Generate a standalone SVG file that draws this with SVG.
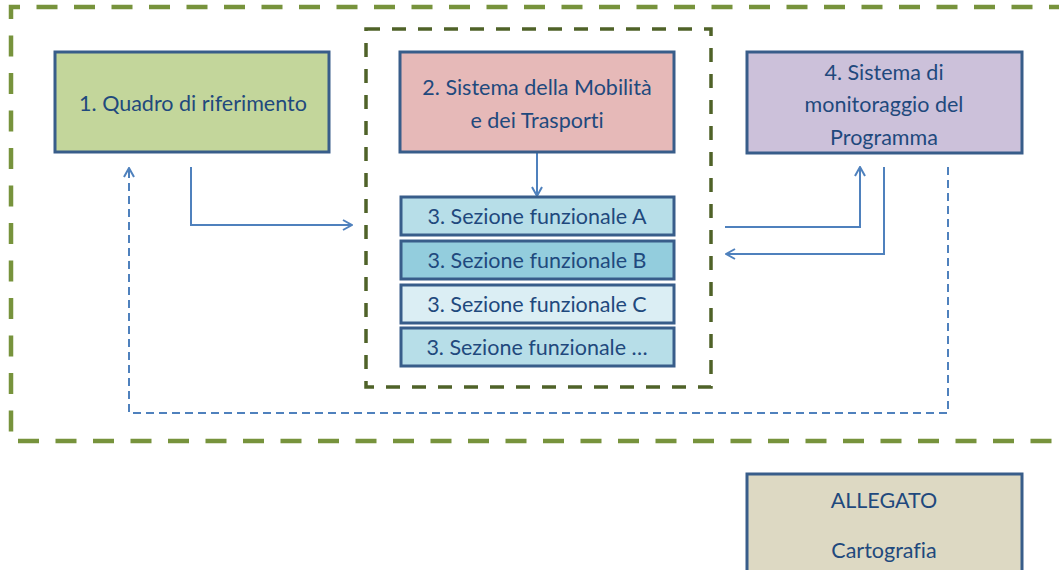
<svg xmlns="http://www.w3.org/2000/svg" width="1059" height="570" viewBox="0 0 1059 570">
<style>
.box{stroke:#385D8A;stroke-width:3}
.t{font-family:Lato,"Open Sans",sans-serif;font-size:21.5px;fill:#1F497D;text-anchor:middle;dominant-baseline:central;font-variant-ligatures:none;font-feature-settings:"liga" 0}
.c{fill:none;stroke:#4F81BD;stroke-width:2}
</style>
<defs>
<marker id="ah" viewBox="0 0 12 12" refX="11" refY="6" markerWidth="12" markerHeight="12" markerUnits="userSpaceOnUse" orient="auto">
<polyline points="2,1 11,6 2,11" fill="none" stroke="#4F81BD" stroke-width="2"/>
</marker>
</defs>
<rect width="1059" height="570" fill="#fff"/>
<g id="outer-frame">
<path d="M1070 7 H11 V441 H1070" fill="none" stroke="#77933C" stroke-width="4.5" stroke-dasharray="21 16.5"/>
</g>
<g id="inner-frame">
<rect x="366" y="29" width="345" height="358" fill="none" stroke="#4F6228" stroke-width="3.5" stroke-dasharray="14 12"/>
</g>
<g id="connectors">
<path class="c" d="M537 152 V196" marker-end="url(#ah)"/>
<path class="c" d="M191 167 V225 H352" marker-end="url(#ah)"/>
<path class="c" d="M725 227 H860 V167" marker-end="url(#ah)"/>
<path class="c" d="M884 167 V254 H726" marker-end="url(#ah)"/>
<path class="c" d="M948 167 V413 H129 V168" stroke-dasharray="8 5" marker-end="url(#ah)"/>
</g>
<g id="node1">
<rect class="box" x="55" y="52" width="274" height="100" fill="#C3D69B"/>
<text class="t" x="193" y="103">1. Quadro di riferimento</text>
</g>
<g id="node2">
<rect class="box" x="400" y="52" width="274" height="100" fill="#E6B9B8"/>
<text class="t" x="537" y="87">2. Sistema della Mobilità</text>
<text class="t" x="537" y="120">e dei Trasporti</text>
</g>
<g id="node3a">
<rect class="box" x="401" y="197" width="273" height="38" fill="#B7DEE8"/>
<text class="t" x="537" y="216">3. Sezione funzionale  A</text>
</g>
<g id="node3b">
<rect class="box" x="401" y="241" width="273" height="38" fill="#93CDDD"/>
<text class="t" x="537" y="260">3. Sezione funzionale  B</text>
</g>
<g id="node3c">
<rect class="box" x="401" y="285" width="273" height="38" fill="#DBEEF4"/>
<text class="t" x="537" y="304">3. Sezione funzionale  C</text>
</g>
<g id="node3d">
<rect class="box" x="401" y="328" width="273" height="38" fill="#B7DEE8"/>
<text class="t" x="537" y="347">3. Sezione funzionale  …</text>
</g>
<g id="node4">
<rect class="box" x="747" y="52" width="275" height="101" fill="#CCC1DA"/>
<text class="t" x="884" y="72">4. Sistema di</text>
<text class="t" x="884" y="104">monitoraggio del</text>
<text class="t" x="884" y="137">Programma</text>
</g>
<g id="allegato">
<rect class="box" x="747" y="474" width="275" height="110" fill="#DDD9C3"/>
<text class="t" x="884" y="500">ALLEGATO</text>
<text class="t" x="884" y="550">Cartografia</text>
</g>
</svg>
